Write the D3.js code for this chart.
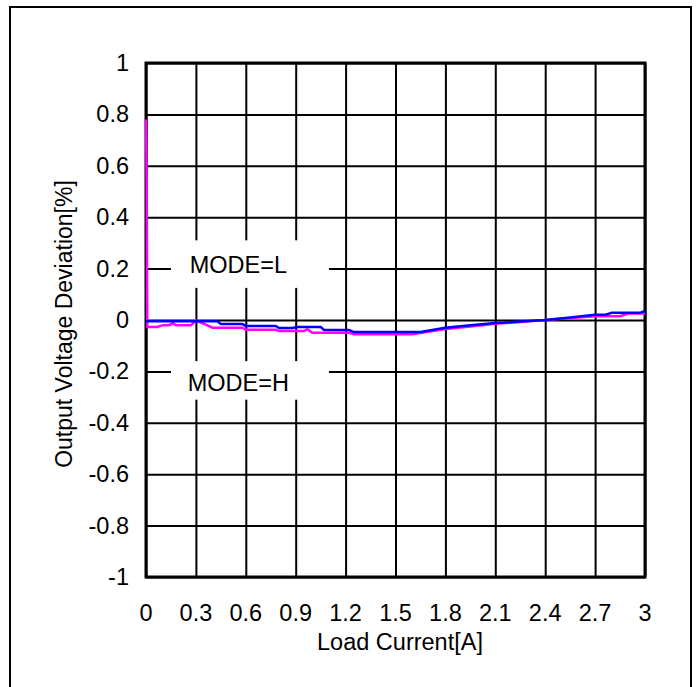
<!DOCTYPE html>
<meta charset="utf-8">
<style>
body { margin: 0; background: #fff; }
svg text { font-family: "Liberation Sans", Arial, sans-serif; fill: #000; }
.grid line { stroke: #000; stroke-width: 2; }
.grid path { stroke-width: 0; }
</style>
<body>
<svg width="700" height="687"></svg>
<script src="https://d3js.org/d3.v7.min.js"></script>
<script>

// load current [A] / deviation [%]
var modeLCurrent = [0, 0.43, 0.45, 0.58, 0.60, 0.78, 0.80, 0.88, 0.91, 1.05, 1.07, 1.22, 1.25, 1.65, 1.8, 1.95, 2.1, 2.25, 2.4, 2.55, 2.7, 2.76, 2.8, 2.97, 3.0];
var modeLDev = [-0.005, -0.005, -0.016, -0.016, -0.023, -0.023, -0.031, -0.031, -0.027, -0.027, -0.039, -0.039, -0.047, -0.047, -0.03, -0.02, -0.012, -0.006, 0, 0.01, 0.02, 0.02, 0.028, 0.028, 0.035];

var modeHCurrent = [0, 0.004, 0.008, 0.07, 0.1, 0.14, 0.16, 0.18, 0.27, 0.3, 0.36, 0.4, 0.58, 0.6, 0.78, 0.8, 0.95, 0.97, 1.0, 1.22, 1.25, 1.6, 1.8, 1.95, 2.1, 2.25, 2.4, 2.55, 2.7, 2.85, 2.9, 3.0];
var modeHDev = [0.78, 0.55, -0.027, -0.027, -0.02, -0.02, -0.012, -0.02, -0.02, -0.002, -0.018, -0.03, -0.03, -0.038, -0.038, -0.043, -0.043, -0.036, -0.05, -0.05, -0.055, -0.055, -0.035, -0.025, -0.015, -0.008, 0, 0.008, 0.015, 0.015, 0.025, 0.025];

var xTicks = [0, 0.3, 0.6, 0.9, 1.2, 1.5, 1.8, 2.1, 2.4, 2.7, 3];
var yTicks = [-1, -0.8, -0.6, -0.4, -0.2, 0, 0.2, 0.4, 0.6, 0.8, 1];

var svg = d3.select("svg");

var pLeft = 146, pRight = 645, pTop = 63, pBottom = 577;
var fs = "23.5px";

var x = d3.scaleLinear().domain([0, 3]).range([pLeft, pRight]);
var y = d3.scaleLinear().domain([-1, 1]).range([pBottom, pTop]);

// outer frame
svg.append("rect")
	.attr("x", 10).attr("y", 7)
	.attr("width", 681).attr("height", 700)
	.attr("fill", "none")
	.attr("stroke", "#000")
	.attr("stroke-width", 2);

// grid
svg.append("g")
	.attr("class", "grid")
	.attr("transform", "translate(0," + pBottom + ")")
	.call(d3.axisBottom(x).tickValues(xTicks).tickSize(-(pBottom - pTop)).tickFormat(""));

svg.append("g")
	.attr("class", "grid")
	.attr("transform", "translate(" + pLeft + ",0)")
	.call(d3.axisLeft(y).tickValues(yTicks).tickSize(-(pRight - pLeft)).tickFormat(""));

svg.append("rect")
	.attr("x", pLeft).attr("y", pTop)
	.attr("width", pRight - pLeft).attr("height", pBottom - pTop)
	.attr("fill", "none")
	.attr("stroke", "#000")
	.attr("stroke-width", 3);

// tick labels
svg.selectAll(".xlab")
	.data(xTicks)
	.enter().append("text")
	.attr("class", "xlab")
	.attr("x", function(d){ return x(d); })
	.attr("y", 621)
	.attr("text-anchor", "middle")
	.style("font-size", fs)
	.text(function(d){ return d; });

svg.selectAll(".ylab")
	.data(yTicks)
	.enter().append("text")
	.attr("class", "ylab")
	.attr("x", 129)
	.attr("y", function(d){ return y(d) + 8; })
	.attr("text-anchor", "end")
	.style("font-size", fs)
	.text(function(d){ return d; });

svg.append("text")
	.attr("x", 400).attr("y", 650)
	.attr("text-anchor", "middle")
	.style("font-size", fs)
	.text("Load Current[A]");

svg.append("text")
	.attr("transform", "translate(72,324) rotate(-90)")
	.attr("text-anchor", "middle")
	.style("font-size", "23px")
	.text("Output Voltage Deviation[%]");

// mode labels
var boxes = [{t: "MODE=L", y0: 0.31, y1: 0.125, ty: 0.215}, {t: "MODE=H", y0: -0.16, y1: -0.31, ty: -0.245}];
boxes.forEach(function(b){
	svg.append("rect")
		.attr("x", x(0.15)).attr("y", y(b.y0))
		.attr("width", x(1.1) - x(0.15)).attr("height", y(b.y1) - y(b.y0))
		.attr("fill", "#fff");
	svg.append("text")
		.attr("x", x(0.555)).attr("y", y(b.ty) + 8)
		.attr("text-anchor", "middle")
		.style("font-size", fs)
		.text(b.t);
});

// curves
var line = d3.line()
	.x(function(d){ return x(d[0]); })
	.y(function(d){ return y(d[1]); });

svg.append("path")
	.datum(d3.zip(modeHCurrent, modeHDev))
	.attr("d", line)
	.attr("fill", "none")
	.attr("stroke", "#ff00ff")
	.attr("stroke-width", 2.5);

svg.append("path")
	.datum(d3.zip(modeLCurrent, modeLDev))
	.attr("d", line)
	.attr("fill", "none")
	.attr("stroke", "#0000ff")
	.attr("stroke-width", 2.5);

</script>
</body>
</html>
